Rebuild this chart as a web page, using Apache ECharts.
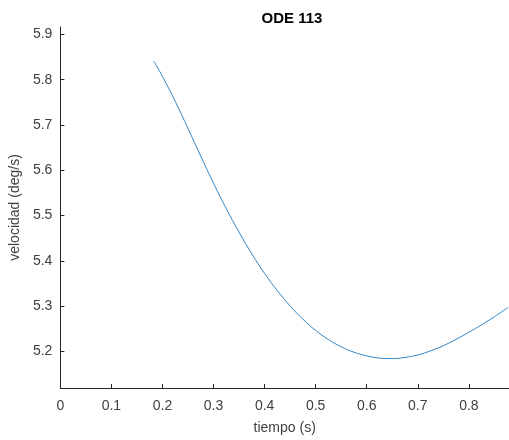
<!DOCTYPE html>
<html>
<head>
<meta charset="utf-8">
<script src="https://cdn.jsdelivr.net/npm/echarts@6/dist/echarts.min.js"></script>
<style>
html,body{margin:0;padding:0;background:#fff;}
#c{width:509px;height:440px;}
</style>
</head>
<body>
<div id="c"></div>
<script>
const title = "ODE 113";
const xLabel = "tiempo (s)";
const yLabel = "velocidad (deg/s)";
const xTicks = [0, 0.1, 0.2, 0.3, 0.4, 0.5, 0.6, 0.7, 0.8];
const yTicks = [5.2, 5.3, 5.4, 5.5, 5.6, 5.7, 5.8, 5.9];
const tiempo = [0.183, 0.20, 0.225, 0.25, 0.275, 0.30, 0.325, 0.35, 0.375, 0.40, 0.425, 0.45, 0.475, 0.50, 0.525, 0.55, 0.575, 0.60, 0.625, 0.65, 0.675, 0.70, 0.725, 0.75, 0.775, 0.80, 0.825, 0.85, 0.877];
const velocidad = [5.841, 5.807, 5.752, 5.692, 5.631, 5.571, 5.515, 5.463, 5.415, 5.372, 5.334, 5.300, 5.271, 5.246, 5.226, 5.210, 5.198, 5.190, 5.185, 5.184, 5.1865, 5.192, 5.201, 5.2125, 5.2265, 5.242, 5.2585, 5.2765, 5.297];

const chart = echarts.init(document.getElementById('c'), null, {renderer: 'canvas'});
const font = 'Liberation Sans, Arial, Helvetica, sans-serif';
const axisCol = '#262626';
const txtCol = '#404040';
chart.setOption({
  animation: false,
  backgroundColor: '#ffffff',
  title: {
    text: title, left: 287, top: 6, textAlign: 'center',
    textStyle: {fontFamily: font, fontSize: 15, fontWeight: 'bold', color: '#000'}
  },
  grid: {left: 58, right: 0, top: 27, bottom: 51, containLabel: false},
  xAxis: {
    type: 'value', min: 0, max: 0.8786,
    name: xLabel, nameLocation: 'middle', nameGap: 33,
    nameTextStyle: {fontFamily: font, fontSize: 14, color: txtCol},
    axisLine: {show: true, onZero: false, lineStyle: {color: axisCol, width: 1}},
    axisTick: {show: true, inside: true, length: 4, customValues: xTicks, lineStyle: {color: axisCol}},
    axisLabel: {customValues: xTicks, fontFamily: font, fontSize: 14, color: txtCol, margin: 11,
      formatter: v => String(v)},
    splitLine: {show: false}
  },
  yAxis: {
    type: 'value', min: 5.119, max: 5.9163,
    name: yLabel, nameLocation: 'middle', nameGap: 38, nameRotate: 90,
    nameTextStyle: {fontFamily: font, fontSize: 14, color: txtCol},
    axisLine: {show: true, onZero: false, lineStyle: {color: axisCol, width: 1}},
    axisTick: {show: true, inside: true, length: 4, customValues: yTicks, lineStyle: {color: axisCol}},
    axisLabel: {customValues: yTicks, fontFamily: font, fontSize: 14, color: txtCol, margin: 8,
      formatter: v => v.toFixed(1)},
    splitLine: {show: false}
  },
  series: [{
    type: 'line', data: tiempo.map((t, i) => [t, velocidad[i]]),
    smooth: 0.4, showSymbol: false, symbol: 'none',
    lineStyle: {color: '#2f86c9', width: 1},
    clip: true
  }]
});
</script>
</body>
</html>
